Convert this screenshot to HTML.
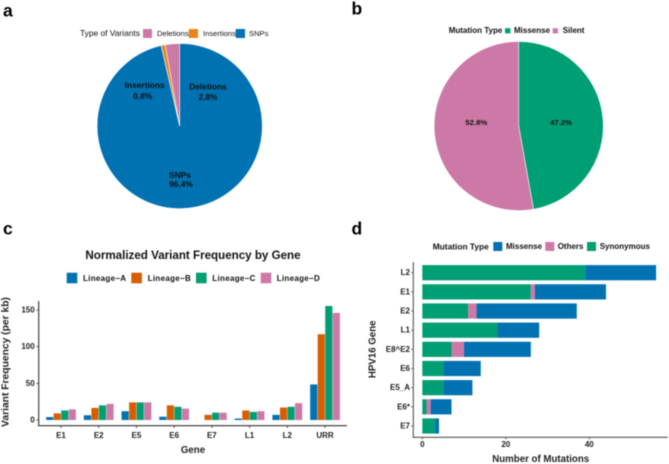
<!DOCTYPE html>
<html lang="en">
<head>
<meta charset="utf-8">
<title>HPV16 variant summary panels</title>
<style>
html,body{margin:0;padding:0;background:#fff;}
body{width:669px;height:464px;overflow:hidden;}
svg{display:block;filter:blur(0.42px);font-family:"Liberation Sans",Arial,sans-serif;}
text{fill:#111;dominant-baseline:central;}
.b{font-weight:700;}
.panel{font-size:17.5px;font-weight:700;fill:#000;dominant-baseline:auto;}
.t8{font-size:8px;font-weight:700;}
.t85{font-size:8.4px;font-weight:700;}
.leg{font-size:7.6px;}
.axt{font-size:9.7px;font-weight:700;fill:#222;}
.axt-long{font-size:10.3px;font-weight:700;fill:#222;}
.tick{font-size:8px;font-weight:700;fill:#222;}
</style>
</head>
<body>
<svg id="fig" xmlns="http://www.w3.org/2000/svg" width="669" height="464" viewBox="0 0 669 464">
  <rect x="0" y="0" width="669" height="464" fill="#fff"></rect>
  <text class="panel" x="3" y="16.7">a</text>
  <text class="panel" x="351.5" y="14.7">b</text>
  <text class="panel" x="3" y="234.3">c</text>
  <text class="panel" x="351.5" y="234.3">d</text>

  <g id="pieA"></g>
  <g>
    <text x="80" y="33" font-size="8.4">Type of Variants</text>
    <rect x="143" y="29" width="9" height="9" fill="#CC79A7"></rect>
    <text class="leg" x="157" y="33.5">Deletions</text>
    <rect x="188.7" y="29" width="9.3" height="9" fill="#E8851F"></rect>
    <text class="leg" x="203" y="33.5">Insertions</text>
    <rect x="235.7" y="29" width="9.3" height="9" fill="#0072B2"></rect>
    <text class="leg" x="249" y="33.5">SNPs</text>
  </g>
  <g class="t85" text-anchor="middle">
    <text x="208" y="86.5">Deletions</text>
    <text x="208" y="97">2.8%</text>
    <text x="144.7" y="85">Insertions</text>
    <text x="142.7" y="96">0.8%</text>
    <text x="180" y="175">SNPs</text>
    <text x="181" y="184">96.4%</text>
  </g>

  <g id="pieB"></g>
  <g>
    <text class="t8" x="448.7" y="30.7">Mutation Type</text>
    <rect x="505" y="28.2" width="5.4" height="5.2" fill="#009E73"></rect>
    <text class="t8" x="514" y="30.7">Missense</text>
    <rect x="552.7" y="28.2" width="5.2" height="5.2" fill="#CC79A7"></rect>
    <text class="t8" x="562.7" y="30.7">Silent</text>
  </g>
  <text class="b" x="476.3" y="122.4" font-size="7.7" text-anchor="middle">52.8%</text>
  <text class="b" x="561" y="122.7" font-size="7.7" text-anchor="middle">47.2%</text>

  <text class="b" x="193" y="255.7" font-size="11.6" text-anchor="middle">Normalized Variant Frequency by Gene</text>
  <g>
    <rect x="66.7" y="272.7" width="10.6" height="10.6" fill="#0072B2"></rect>
    <text class="t8" x="83" y="278.3" letter-spacing="0.3">Lineage−A</text>
    <rect x="131.3" y="272.7" width="10.6" height="10.6" fill="#D55E00"></rect>
    <text class="t8" x="147.7" y="278.3" letter-spacing="0.3">Lineage−B</text>
    <rect x="196" y="272.7" width="10.6" height="10.6" fill="#009E73"></rect>
    <text class="t8" x="212.3" y="278.3" letter-spacing="0.3">Lineage−C</text>
    <rect x="260.7" y="272.7" width="10.6" height="10.6" fill="#CC79A7"></rect>
    <text class="t8" x="276.7" y="278.3" letter-spacing="0.3">Lineage−D</text>
  </g>
  <g id="chartC"></g>
  <text class="axt" x="193" y="450.7" text-anchor="middle">Gene</text>
  <text class="axt-long" x="5.9" y="362" text-anchor="middle" transform="rotate(-90 5.9 362)">Variant Frequency (per kb)</text>

  <g>
    <text class="t85" x="432.7" y="246.7">Mutation Type</text>
    <rect x="493.3" y="242" width="9" height="9" fill="#0072B2"></rect>
    <text class="t8" x="506" y="246.7">Missense</text>
    <rect x="545.3" y="242" width="9" height="9" fill="#CC79A7"></rect>
    <text class="t8" x="557.7" y="246.7">Others</text>
    <rect x="587" y="242" width="9" height="9" fill="#009E73"></rect>
    <text class="t8" x="599.7" y="246.7">Synonymous</text>
  </g>
  <g id="chartD"></g>
  <text class="axt" x="540.7" y="459.3" text-anchor="middle">Number of Mutations</text>
  <text class="axt" x="373" y="349.3" text-anchor="middle" transform="rotate(-90 373 349.3)">HPV16 Gene</text>
</svg>
<script>
// Panel a
const variantTypes = ['SNPs', 'Insertions', 'Deletions'];
const variantShares = [96.4, 0.8, 2.8];
const variantColors = ['#0072B2', '#E8851F', '#CC79A7'];
// Panel b
const mutationTypes = ['Missense', 'Silent'];
const mutationShares = [47.2, 52.8];
const mutationColors = ['#009E73', '#CC79A7'];
// Panel c
const genesC = ['E1', 'E2', 'E5', 'E6', 'E7', 'L1', 'L2', 'URR'];
const lineageNames = ['Lineage-A', 'Lineage-B', 'Lineage-C', 'Lineage-D'];
const lineageColors = ['#0072B2', '#D55E00', '#009E73', '#CC79A7'];
const lineageA = [4, 6.5, 12, 4.5, 0, 2, 7, 48.5];
const lineageB = [9, 16.5, 24, 20, 7, 13, 17, 117];
const lineageC = [13, 20, 24, 18, 10, 11, 18, 155.5];
const lineageD = [14.5, 22, 24, 15.5, 10, 12, 23, 146];
const ticksC = [0, 50, 100, 150];
// Panel d
const genesD = ['L2', 'E1', 'E2', 'L1', 'E8^E2', 'E6', 'E5_A', 'E6*', 'E7'];
const synonymous = [39, 26, 11, 18, 7, 5, 5, 1, 3];
const others = [0, 1, 2, 0, 3, 0, 0, 1, 0];
const missense = [17, 17, 24, 10, 16, 9, 7, 5, 1];
const ticksD = [0, 20, 40];

const NS = 'http://www.w3.org/2000/svg';
function mk(parent, tag, attrs, txt) {
  const el = document.createElementNS(NS, tag);
  for (const k in attrs) el.setAttribute(k, attrs[k]);
  if (txt !== undefined) el.textContent = txt;
  parent.appendChild(el);
  return el;
}
function drawPie(parent, cx, cy, r, names, vals, colors) {
  const total = vals.reduce(function (a, b) { return a + b; }, 0);
  let acc = 0;
  vals.forEach(function (v, i) {
    const a0 = acc / total * 2 * Math.PI;
    acc += v;
    const a1 = acc / total * 2 * Math.PI;
    const large = a1 - a0 > Math.PI ? 1 : 0;
    const d = 'M' + cx + ' ' + cy +
      'L' + (cx + r * Math.sin(a0)) + ' ' + (cy - r * Math.cos(a0)) +
      'A' + r + ' ' + r + ' 0 ' + large + ' 1 ' + (cx + r * Math.sin(a1)) + ' ' + (cy - r * Math.cos(a1)) + 'Z';
    const p = mk(parent, 'path', { d: d, fill: colors[i], stroke: '#fff', 'stroke-width': 0.6 });
    
    
  });
}
drawPie(document.getElementById('pieA'), 179.7, 126, 82.6, variantTypes, variantShares, variantColors);
drawPie(document.getElementById('pieB'), 518.7, 126, 84.6, mutationTypes, mutationShares, mutationColors);

// Chart c
(function () {
  const g = document.getElementById('chartC');
  const y = function (v) { return 420 - v * 110 / 150; };
  const x = function (i) { return 61 + i * 37.72; };
  const series = [lineageA, lineageB, lineageC, lineageD];
  const bw = 7.54;
  series.forEach(function (vals, s) {
    vals.forEach(function (v, i) {
      const r = mk(g, 'rect', {
        x: x(i) - 2 * bw + s * bw + 0.2,
        y: y(v),
        width: bw - 0.4,
        height: Math.max(0, y(0) - y(v)),
        fill: lineageColors[s]
      });
      
      
    });
  });
  const yAxis = mk(g, 'line', { x1: 38.7, x2: 38.7, y1: 301, y2: 426, stroke: '#333', 'stroke-width': 1.1 });
  
  
  const xAxis = mk(g, 'line', { x1: 38.2, x2: 347, y1: 425.7, y2: 425.7, stroke: '#333', 'stroke-width': 1.1 });
  
  
  ticksC.forEach(function (t) {
    const m = mk(g, 'line', { x1: 36.4, x2: 38.7, y1: y(t), y2: y(t), stroke: '#333', 'stroke-width': 0.8 });
    
    
    const l = mk(g, 'text', { x: 34.7, y: y(t), 'text-anchor': 'end', class: 'tick' }, String(t));
    
    
  });
  genesC.forEach(function (name, i) {
    const m = mk(g, 'line', { x1: x(i), x2: x(i), y1: 425.7, y2: 428, stroke: '#333', 'stroke-width': 0.8 });
    
    
    const l = mk(g, 'text', { x: x(i), y: 435.7, 'text-anchor': 'middle', class: 'tick' }, name);
    
    
  });
})();

// Chart d
(function () {
  const g = document.getElementById('chartD');
  const x = function (v) { return 422.3 + v * 4.175; };
  const y = function (i) { return 272.7 + i * 19.16; };
  const bh = 15.2;
  genesD.forEach(function (name, i) {
    const parts = [synonymous[i], others[i], missense[i]];
    const partNames = ['synonymous', 'others', 'missense'];
    const partColors = ['#009E73', '#CC79A7', '#0072B2'];
    let acc = 0;
    parts.forEach(function (v, p) {
      if (v > 0) {
        const r = mk(g, 'rect', { x: x(acc), y: y(i) - bh / 2, width: x(acc + v) - x(acc), height: bh, fill: partColors[p] });
        
        
      }
      acc += v;
    });
    const m = mk(g, 'line', { x1: 411.2, x2: 413.3, y1: y(i), y2: y(i), stroke: '#444', 'stroke-width': 0.8 });
    
    
    const l = mk(g, 'text', { x: 410, y: y(i), 'text-anchor': 'end', class: 'tick' }, name);
    
    
  });
  const yAxis = mk(g, 'line', { x1: 413.3, x2: 413.3, y1: 262, y2: 437.8, stroke: '#555', 'stroke-width': 1.1 });
  
  
  const xAxis = mk(g, 'line', { x1: 412.8, x2: 667.7, y1: 437.3, y2: 437.3, stroke: '#555', 'stroke-width': 1.1 });
  
  
  ticksD.forEach(function (t) {
    const m = mk(g, 'line', { x1: x(t), x2: x(t), y1: 437.3, y2: 439.4, stroke: '#444', 'stroke-width': 0.8 });
    
    
    const l = mk(g, 'text', { x: x(t), y: 444.5, 'text-anchor': 'middle', class: 'tick' }, String(t));
    
    
  });
})();
</script>
</body>
</html>
